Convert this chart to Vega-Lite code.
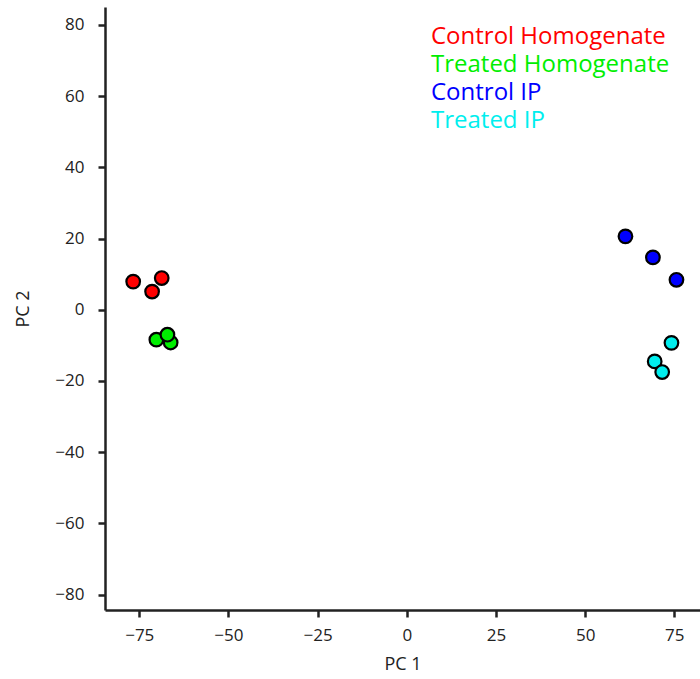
{
  "$schema": "https://vega.github.io/schema/vega-lite/v6.json",
  "width": 595,
  "height": 603,
  "autosize": {"type": "none"},
  "padding": {"left": 105, "top": 7, "right": 0, "bottom": 69},
  "background": "white",
  "config": {
    "view": {"stroke": null},
    "font": "Open Sans"
  },
  "data": {
    "values": [
      {"group": "Control Homogenate", "PC1": -76.7, "PC2": 7.9},
      {"group": "Control Homogenate", "PC1": -71.4, "PC2": 5.1},
      {"group": "Control Homogenate", "PC1": -68.7, "PC2": 8.9},
      {"group": "Treated Homogenate", "PC1": -70.2, "PC2": -8.4},
      {"group": "Treated Homogenate", "PC1": -66.2, "PC2": -9.2},
      {"group": "Treated Homogenate", "PC1": -67.1, "PC2": -7.0},
      {"group": "Control IP", "PC1": 61.3, "PC2": 20.6},
      {"group": "Control IP", "PC1": 69.0, "PC2": 14.7},
      {"group": "Control IP", "PC1": 75.6, "PC2": 8.4},
      {"group": "Treated IP", "PC1": 74.2, "PC2": -9.3},
      {"group": "Treated IP", "PC1": 69.5, "PC2": -14.5},
      {"group": "Treated IP", "PC1": 71.6, "PC2": -17.5}
    ]
  },
  "mark": {"type": "point", "filled": true, "size": 185, "stroke": "black", "strokeWidth": 2.2, "opacity": 1, "strokeOpacity": 1},
  "encoding": {
    "x": {
      "field": "PC1", "type": "quantitative",
      "scale": {"domain": [-84.6, 82.2], "nice": false, "zero": false},
      "axis": {
        "title": "PC 1", "values": [-75, -50, -25, 0, 25, 50, 75],
        "grid": false, "domainColor": "#222", "domainWidth": 2.5,
        "tickColor": "#222", "tickWidth": 2.5, "tickSize": 7,
        "labelFontSize": 17, "labelColor": "#222", "labelPadding": 10,
        "titleFontSize": 18, "titleFontWeight": "normal", "titleColor": "#222", "titlePadding": 12
      }
    },
    "y": {
      "field": "PC2", "type": "quantitative",
      "scale": {"domain": [-84.3, 85], "nice": false, "zero": false},
      "axis": {
        "title": "PC 2", "values": [-80, -60, -40, -20, 0, 20, 40, 60, 80],
        "grid": false, "domainColor": "#222", "domainWidth": 2.5,
        "tickColor": "#222", "tickWidth": 2.5, "tickSize": 7,
        "labelFontSize": 17, "labelColor": "#222", "labelPadding": 14,
        "titleFontSize": 18, "titleFontWeight": "normal", "titleColor": "#222", "titlePadding": 22
      }
    },
    "fill": {
      "field": "group", "type": "nominal",
      "scale": {
        "domain": ["Control Homogenate", "Treated Homogenate", "Control IP", "Treated IP"],
        "range": ["#ff0000", "#00ee00", "#0000ff", "#00eeee"]
      },
      "legend": {
        "title": null, "orient": "none", "legendX": 302, "legendY": 18,
        "symbolSize": 0, "symbolStrokeWidth": 0, "symbolOpacity": 0,
        "labelFontSize": 24, "labelOffset": 0, "rowPadding": 4,
        "labelLimit": 400,
        "labelColor": {"expr": "scale('fill', datum.value)"}
      }
    }
  }
}
